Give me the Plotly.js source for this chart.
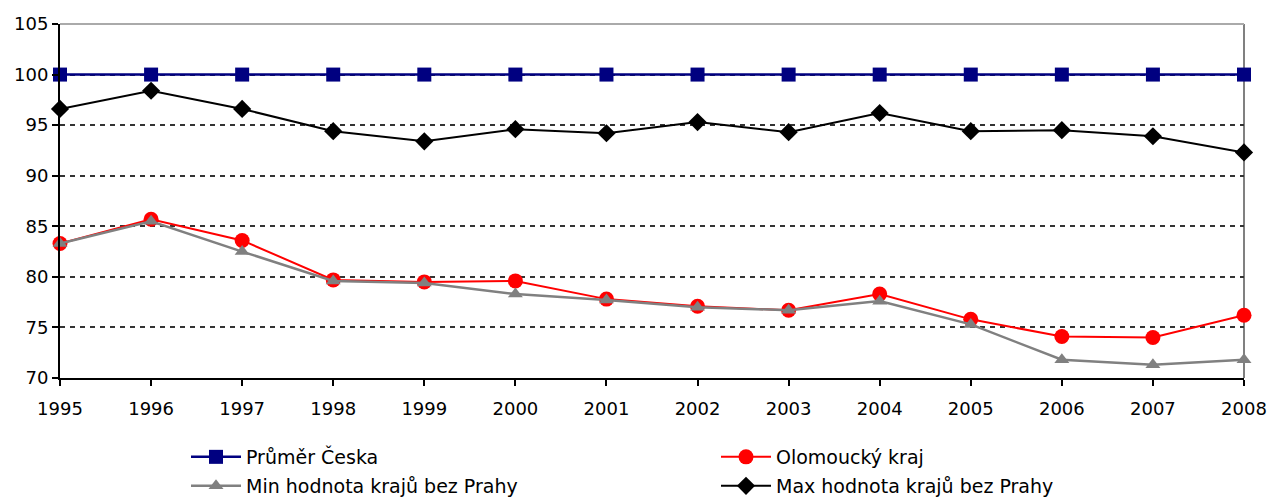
<!DOCTYPE html>
<html>
<head>
<meta charset="utf-8">
<script src="https://cdn.plot.ly/plotly-3.0.1.min.js"></script>
<style>html,body{margin:0;padding:0;background:#fff;}#chart{width:1271px;height:498px;}</style>
</head>
<body>
<div id="chart"></div>
<script>
const years = [1995,1996,1997,1998,1999,2000,2001,2002,2003,2004,2005,2006,2007,2008];
const prumerCeska = [100,100,100,100,100,100,100,100,100,100,100,100,100,100];
const olomouckyKraj = [83.3,85.7,83.6,79.7,79.5,79.6,77.8,77.1,76.7,78.3,75.8,74.1,74.0,76.2];
const minHodnota = [83.3,85.5,82.5,79.6,79.4,78.3,77.7,77.0,76.7,77.6,75.3,71.8,71.3,71.8];
const maxHodnota = [96.6,98.4,96.6,94.4,93.4,94.6,94.2,95.3,94.3,96.2,94.4,94.5,93.9,92.3];
const yTicks = [70,75,80,85,90,95,100,105];

const FONT = 'DejaVu Sans, Liberation Sans, Arial, sans-serif';

const traces = [
  {x: years, y: prumerCeska, name: 'Průměr Česka', mode: 'lines+markers', legend: 'legend',
   line: {color: '#000080', width: 2.5}, marker: {symbol: 'square', size: 14, color: '#000080'}},
  {x: years, y: olomouckyKraj, name: 'Olomoucký kraj', mode: 'lines+markers', legend: 'legend2',
   line: {color: '#ff0000', width: 2}, marker: {symbol: 'circle', size: 15, color: '#ff0000'}},
  {x: years, y: minHodnota, name: 'Min hodnota krajů bez Prahy', mode: 'lines+markers', legend: 'legend3',
   line: {color: '#808080', width: 2.5}, marker: {symbol: 'triangle-up', size: 13, color: '#808080'}},
  {x: years, y: maxHodnota, name: 'Max hodnota krajů bez Prahy', mode: 'lines+markers', legend: 'legend4',
   line: {color: '#000000', width: 2}, marker: {symbol: 'diamond', size: 14, color: '#000000'}}
].map(t => Object.assign(t, {cliponaxis: false}));

function leg(xpx, ypx) {
  return {
    x: (xpx - 60) / 1184, xanchor: 'left',
    y: (378 - ypx) / 354, yanchor: 'middle',
    font: {family: FONT, size: 19, color: '#000'},
    bgcolor: 'rgba(0,0,0,0)', borderwidth: 0, itemwidth: 50,
    maxheight: 200
  };
}

const layout = {
  width: 1271, height: 498,
  margin: {l: 60, r: 27, t: 24, b: 120, autoexpand: false},
  paper_bgcolor: '#fff', plot_bgcolor: '#fff',
  font: {family: FONT, size: 18, color: '#000'},
  showlegend: true,
  xaxis: {
    range: [1995, 2008], tickvals: years, ticktext: years.map(String),
    showgrid: false, zeroline: false, automargin: false, tickangle: 0,
    showline: true, linecolor: '#000', linewidth: 2,
    ticks: 'outside', ticklen: 6, tickwidth: 2, tickcolor: '#000',
    ticklabelstandoff: 7,
    tickfont: {family: FONT, size: 18}
  },
  yaxis: {
    range: [70, 105], tickvals: yTicks, ticktext: yTicks.map(String),
    showgrid: true, gridcolor: '#333', gridwidth: 2, griddash: '5px,5px',
    zeroline: false, automargin: false,
    showline: true, linecolor: '#000', linewidth: 2,
    ticks: 'outside', ticklen: 6, tickwidth: 2, tickcolor: '#000',
    tickfont: {family: FONT, size: 18}
  },
  shapes: [
    {type: 'line', xref: 'paper', yref: 'paper', x0: 1, x1: 1, y0: 0, y1: 1,
     line: {color: '#808080', width: 2}, layer: 'below'},
    {type: 'line', xref: 'paper', yref: 'paper', x0: 0, x1: 1, y0: 1, y1: 1,
     line: {color: '#aaaaaa', width: 2}, layer: 'below'}
  ],
  legend: leg(186, 457),
  legend2: leg(716, 457),
  legend3: leg(186, 486),
  legend4: leg(716, 486)
};

Plotly.newPlot('chart', traces, layout, {displayModeBar: false, staticPlot: true});
</script>
</body>
</html>
